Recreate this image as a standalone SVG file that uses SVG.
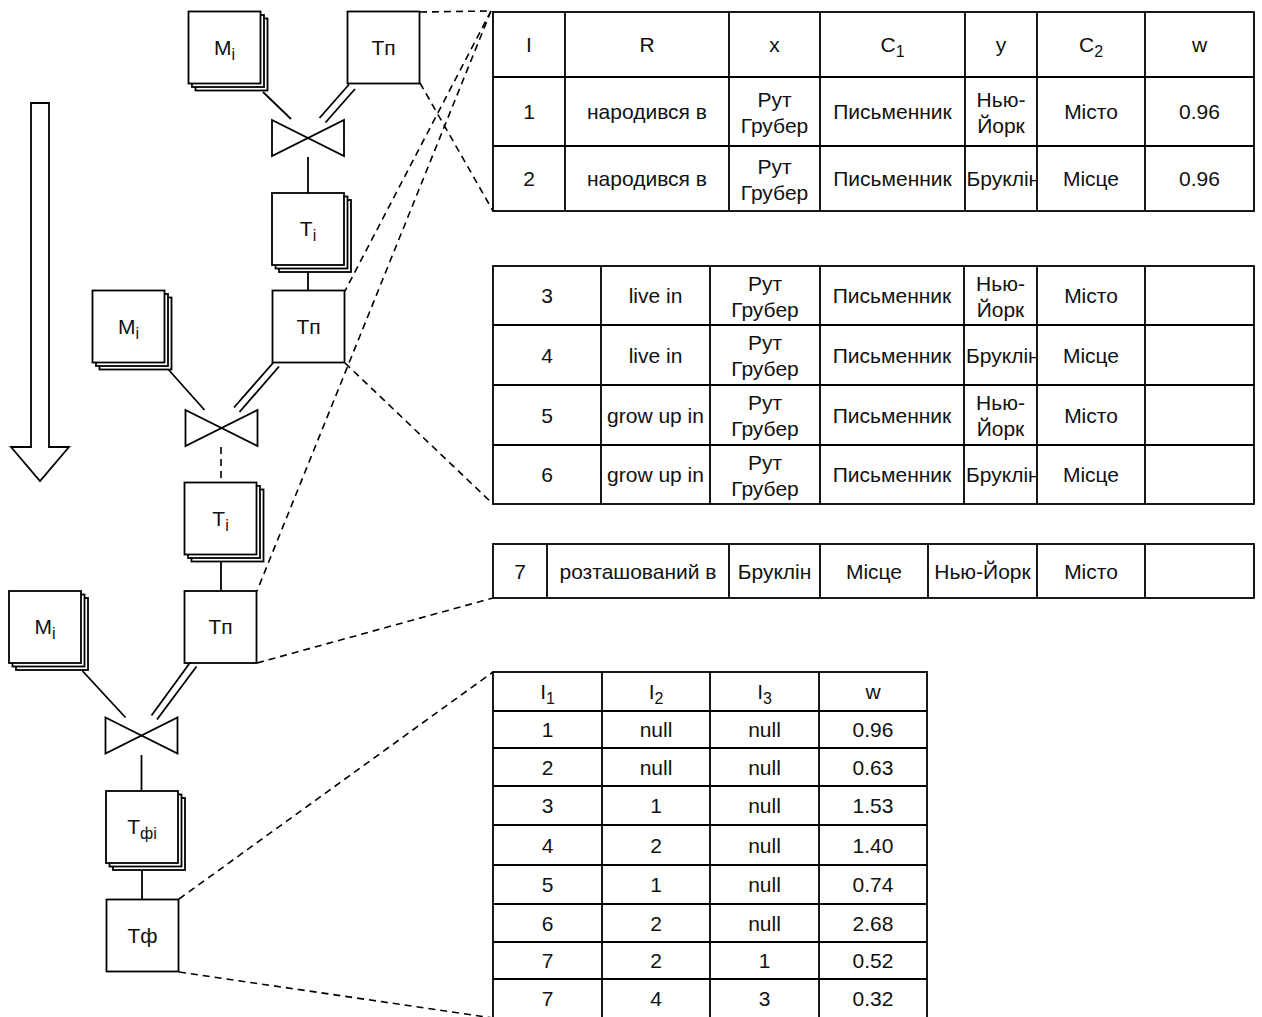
<svg xmlns="http://www.w3.org/2000/svg" xmlns:xlink="http://www.w3.org/1999/xlink" width="1262" height="1017" viewBox="0 0 1262 1017">
  <style>
    .box { fill: #fff; stroke: #000; stroke-width: 1.8; }
    .ln { fill: none; stroke: #000; stroke-width: 1.8; }
    .dash { fill: none; stroke: #000; stroke-width: 1.6; stroke-dasharray: 7 5; }
    .t { font-family: "Liberation Sans", Arial, sans-serif; font-size: 21px; text-anchor: middle; fill: #111; }
    .n { font-family: "Liberation Sans", Arial, sans-serif; font-size: 21px; text-anchor: middle; fill: #111; }
    .l { text-anchor: start; }
  </style>
  <defs>
    <!-- stacked sheet: two offset outlines behind the front square -->
    <g id="stack">
      <rect class="box" x="7" y="7" width="72" height="72"/>
      <rect class="box" x="3.5" y="3.5" width="72" height="72"/>
      <rect class="box" x="0" y="0" width="72" height="72"/>
    </g>
    <rect id="sq" class="box" x="0" y="0" width="72" height="72"/>
    <!-- bow-tie merge valve -->
    <path id="valve" class="ln" d="M0,0 L72,36 L72,0 L0,36 Z"/>
    <clipPath id="clipY">
      <rect x="965" y="0" width="71.5" height="520"/>
    </clipPath>
  </defs>

  <!-- flow direction arrow -->
  <g id="flow-arrow">
    <polygon class="box" points="31,103 49,103 49,447 69,447 40,481 11,447 31,447"/>
  </g>

  <!-- connectors -->
  <g id="connectors">
    <!-- stage 1 -->
    <line class="ln" x1="263" y1="92" x2="291" y2="119"/>
    <line class="ln" x1="349" y1="84.5" x2="319.5" y2="118"/>
    <line class="ln" x1="355" y1="89" x2="325.5" y2="122.5"/>
    <line class="ln" x1="308" y1="157" x2="308" y2="193"/>
    <line class="ln" x1="308" y1="265" x2="308" y2="291"/>
    <!-- stage 2 -->
    <line class="ln" x1="167.5" y1="368.5" x2="204.5" y2="410"/>
    <line class="ln" x1="273" y1="363" x2="234" y2="407.5"/>
    <line class="ln" x1="279" y1="366.5" x2="239.5" y2="412"/>
    <line class="dash" x1="221" y1="447" x2="221" y2="482"/>
    <line class="ln" x1="221" y1="555" x2="221" y2="591"/>
    <!-- stage 3 -->
    <line class="ln" x1="82.5" y1="671" x2="125.5" y2="717.5"/>
    <line class="ln" x1="190.5" y1="662" x2="151.5" y2="715.5"/>
    <line class="ln" x1="196.5" y1="666.5" x2="157" y2="719.5"/>
    <line class="ln" x1="141.5" y1="755" x2="141.5" y2="791"/>
    <line class="ln" x1="142" y1="863" x2="142" y2="899"/>
    <!-- callouts to the tables -->
    <line class="dash" x1="420" y1="12" x2="491" y2="11"/>
    <line class="dash" x1="420" y1="83" x2="493" y2="211"/>
    <line class="dash" x1="491" y1="11" x2="345" y2="291"/>
    <line class="dash" x1="491" y1="11" x2="257" y2="591"/>
    <line class="dash" x1="345" y1="363" x2="493" y2="504"/>
    <line class="dash" x1="257" y1="663" x2="493" y2="598"/>
    <line class="dash" x1="179" y1="899" x2="493" y2="672"/>
    <line class="dash" x1="179" y1="972" x2="493" y2="1018"/>
  </g>

  <!-- stage 1 nodes -->
  <g id="m1"><use xlink:href="#stack" x="188.5" y="11.5"/><text class="n" x="224.5" y="54.5">M<tspan font-size="16" dy="5">i</tspan></text></g>
  <g id="tp1"><use xlink:href="#sq" x="347.5" y="11.5"/><text class="n" x="383.5" y="54.5">Tп</text></g>
  <g id="v1"><use xlink:href="#valve" x="272" y="120"/></g>
  <g id="ti1"><use xlink:href="#stack" x="272" y="193"/><text class="n" x="308" y="236">T<tspan font-size="16" dy="5">i</tspan></text></g>

  <!-- stage 2 nodes -->
  <g id="m2"><use xlink:href="#stack" x="92.5" y="290.5"/><text class="n" x="128.5" y="333.5">M<tspan font-size="16" dy="5">i</tspan></text></g>
  <g id="tp2"><use xlink:href="#sq" x="272.5" y="290.5"/><text class="n" x="308.5" y="333.5">Tп</text></g>
  <g id="v2"><use xlink:href="#valve" x="185.5" y="410"/></g>
  <g id="ti2"><use xlink:href="#stack" x="184.5" y="482.5"/><text class="n" x="220.5" y="525.5">T<tspan font-size="16" dy="5">i</tspan></text></g>

  <!-- stage 3 nodes -->
  <g id="m3"><use xlink:href="#stack" x="9" y="591"/><text class="n" x="45" y="634">M<tspan font-size="16" dy="5">i</tspan></text></g>
  <g id="tp3"><use xlink:href="#sq" x="184.5" y="591"/><text class="n" x="220.5" y="634">Tп</text></g>
  <g id="v3"><use xlink:href="#valve" x="105.5" y="717.5"/></g>
  <g id="tfi"><use xlink:href="#stack" x="106" y="791"/><text class="n" x="142" y="834">T<tspan font-size="16" dy="5">фi</tspan></text></g>
  <g id="tf"><use xlink:href="#sq" x="106.5" y="899.5"/><text class="n" x="142.5" y="942.5">Tф</text></g>

  <!-- table 1 -->
  <g id="table1">
    <rect class="box" x="493" y="12" width="761" height="199"/>
    <path class="ln" d="M565,12V211M729,12V211M820,12V211M965,12V211M1037,12V211M1145,12V211M493,77H1254M493,146H1254"/>
    <text class="t" x="529" y="52">I</text>
    <text class="t" x="647" y="52">R</text>
    <text class="t" x="774.5" y="52">x</text>
    <text class="t" x="892.5" y="52">C<tspan font-size="16" dy="5">1</tspan></text>
    <text class="t" x="1001" y="52">y</text>
    <text class="t" x="1091" y="52">C<tspan font-size="16" dy="5">2</tspan></text>
    <text class="t" x="1199.5" y="52">w</text>

    <text class="t" x="529" y="119">1</text>
    <text class="t" x="647" y="119">народився в</text>
    <text class="t" x="774.5" y="106.5">Рут</text>
    <text class="t" x="774.5" y="132.5">Грубер</text>
    <text class="t" x="892.5" y="119">Письменник</text>
    <text class="t" x="1001" y="106.5">Нью-</text>
    <text class="t" x="1001" y="132.5">Йорк</text>
    <text class="t" x="1091" y="119">Місто</text>
    <text class="t" x="1199.5" y="119">0.96</text>

    <text class="t" x="529" y="186">2</text>
    <text class="t" x="647" y="186">народився в</text>
    <text class="t" x="774.5" y="173.5">Рут</text>
    <text class="t" x="774.5" y="199.5">Грубер</text>
    <text class="t" x="892.5" y="186">Письменник</text>
    <text class="t l" x="966.5" y="186" clip-path="url(#clipY)">Бруклін</text>
    <text class="t" x="1091" y="186">Місце</text>
    <text class="t" x="1199.5" y="186">0.96</text>
  </g>

  <!-- table 2 -->
  <g id="table2">
    <rect class="box" x="493" y="266" width="761" height="238"/>
    <path class="ln" d="M601,266V504M710,266V504M820,266V504M964,266V504M1037,266V504M1145,266V504M493,325H1254M493,385H1254M493,445H1254"/>

    <text class="t" x="547" y="303">3</text>
    <text class="t" x="655.5" y="303">live in</text>
    <text class="t" x="765" y="290.5">Рут</text>
    <text class="t" x="765" y="316.5">Грубер</text>
    <text class="t" x="892" y="303">Письменник</text>
    <text class="t" x="1000.5" y="290.5">Нью-</text>
    <text class="t" x="1000.5" y="316.5">Йорк</text>
    <text class="t" x="1091" y="303">Місто</text>

    <text class="t" x="547" y="362.5">4</text>
    <text class="t" x="655.5" y="362.5">live in</text>
    <text class="t" x="765" y="350">Рут</text>
    <text class="t" x="765" y="376">Грубер</text>
    <text class="t" x="892" y="362.5">Письменник</text>
    <text class="t l" x="966" y="362.5" clip-path="url(#clipY)">Бруклін</text>
    <text class="t" x="1091" y="362.5">Місце</text>

    <text class="t" x="547" y="422.5">5</text>
    <text class="t" x="655.5" y="422.5">grow up in</text>
    <text class="t" x="765" y="410">Рут</text>
    <text class="t" x="765" y="436">Грубер</text>
    <text class="t" x="892" y="422.5">Письменник</text>
    <text class="t" x="1000.5" y="410">Нью-</text>
    <text class="t" x="1000.5" y="436">Йорк</text>
    <text class="t" x="1091" y="422.5">Місто</text>

    <text class="t" x="547" y="482">6</text>
    <text class="t" x="655.5" y="482">grow up in</text>
    <text class="t" x="765" y="469.5">Рут</text>
    <text class="t" x="765" y="495.5">Грубер</text>
    <text class="t" x="892" y="482">Письменник</text>
    <text class="t l" x="966" y="482" clip-path="url(#clipY)">Бруклін</text>
    <text class="t" x="1091" y="482">Місце</text>
  </g>

  <!-- table 3 -->
  <g id="table3">
    <rect class="box" x="493" y="544" width="761" height="54"/>
    <path class="ln" d="M547,544V598M729,544V598M820,544V598M928,544V598M1037,544V598M1145,544V598"/>
    <text class="t" x="520" y="578.5">7</text>
    <text class="t" x="638" y="578.5">розташований в</text>
    <text class="t" x="774.5" y="578.5">Бруклін</text>
    <text class="t" x="874" y="578.5">Місце</text>
    <text class="t" x="982.5" y="578.5">Нью-Йорк</text>
    <text class="t" x="1091" y="578.5">Місто</text>
  </g>

  <!-- table 4 -->
  <g id="table4">
    <rect class="box" x="493" y="672" width="434" height="350"/>
    <path class="ln" d="M602,672V1022M710,672V1022M819,672V1022M493,711H927M493,748H927M493,786H927M493,825H927M493,865H927M493,904H927M493,942H927M493,979H927"/>
    <text class="t" x="547.5" y="699">I<tspan font-size="16" dy="5">1</tspan></text>
    <text class="t" x="656" y="699">I<tspan font-size="16" dy="5">2</tspan></text>
    <text class="t" x="764.5" y="699">I<tspan font-size="16" dy="5">3</tspan></text>
    <text class="t" x="873" y="699">w</text>

    <text class="t" x="547.5" y="737">1</text><text class="t" x="656" y="737">null</text><text class="t" x="764.5" y="737">null</text><text class="t" x="873" y="737">0.96</text>
    <text class="t" x="547.5" y="774.5">2</text><text class="t" x="656" y="774.5">null</text><text class="t" x="764.5" y="774.5">null</text><text class="t" x="873" y="774.5">0.63</text>
    <text class="t" x="547.5" y="813">3</text><text class="t" x="656" y="813">1</text><text class="t" x="764.5" y="813">null</text><text class="t" x="873" y="813">1.53</text>
    <text class="t" x="547.5" y="852.5">4</text><text class="t" x="656" y="852.5">2</text><text class="t" x="764.5" y="852.5">null</text><text class="t" x="873" y="852.5">1.40</text>
    <text class="t" x="547.5" y="892">5</text><text class="t" x="656" y="892">1</text><text class="t" x="764.5" y="892">null</text><text class="t" x="873" y="892">0.74</text>
    <text class="t" x="547.5" y="930.5">6</text><text class="t" x="656" y="930.5">2</text><text class="t" x="764.5" y="930.5">null</text><text class="t" x="873" y="930.5">2.68</text>
    <text class="t" x="547.5" y="968">7</text><text class="t" x="656" y="968">2</text><text class="t" x="764.5" y="968">1</text><text class="t" x="873" y="968">0.52</text>
    <text class="t" x="547.5" y="1006">7</text><text class="t" x="656" y="1006">4</text><text class="t" x="764.5" y="1006">3</text><text class="t" x="873" y="1006">0.32</text>
  </g>
</svg>
